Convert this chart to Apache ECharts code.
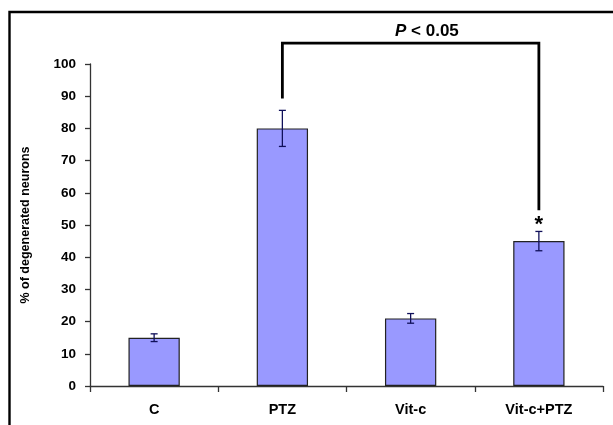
<!DOCTYPE html>
<html>
<head>
<meta charset="utf-8">
<script src="https://cdn.jsdelivr.net/npm/echarts@6/dist/echarts.min.js"></script>
<style>
html,body{margin:0;padding:0;background:#fff;}
#chart{width:613px;height:425px;}
</style>
</head>
<body>
<div id="chart"></div>
<script>
const categories = ['C', 'PTZ', 'Vit-c', 'Vit-c+PTZ'];
const means = [15, 80, 21, 45];
const errors = [1.2, 5.6, 1.5, 3.0];
const yTicks = [0, 10, 20, 30, 40, 50, 60, 70, 80, 90, 100];
const comparePair = [1, 3];
const bracketLevels = [89.3, 106.5, 54.6];
const starLevel = 51.3;
const yAxisTitle = '% of degenerated neurons';
const sigText = 'P < 0.05';

const FONT = '"Liberation Sans", Arial, sans-serif';
const chart = echarts.init(document.getElementById('chart'), null, {renderer: 'canvas'});

const option = {
  backgroundColor: '#ffffff',
  animation: false,
  title: {
    text: '{i|P} < 0.05',
    left: 390,
    top: 18,
    textStyle: {
      fontFamily: FONT, fontSize: 17, fontWeight: 'bold', color: '#000',
      rich: { i: { fontFamily: FONT, fontSize: 17, fontWeight: 'bold', fontStyle: 'italic', color: '#000' } }
    }
  },
  graphic: [{
    type: 'polyline',
    shape: { points: [[9.5, 425], [9.5, 12], [613, 12]] },
    style: { stroke: '#000', lineWidth: 2.4, fill: null },
    silent: true
  }],
  grid: { left: 90, right: 10, top: 64, bottom: 39 },
  xAxis: {
    type: 'category',
    data: categories,
    axisLine: { lineStyle: { color: '#333', width: 1.3 } },
    axisTick: { show: true, alignWithLabel: false, length: 6, lineStyle: { color: '#333', width: 1.3 } },
    axisLabel: { margin: 16, fontFamily: FONT, fontSize: 14.5, fontWeight: 'bold', color: '#000' },
    splitLine: { show: false }
  },
  yAxis: {
    type: 'value',
    min: 0, max: 100, interval: 10,
    name: yAxisTitle,
    nameLocation: 'middle',
    nameGap: 58,
    nameRotate: 90,
    nameTextStyle: { fontFamily: FONT, fontSize: 12.5, fontWeight: 'bold', color: '#000' },
    axisLine: { show: true, lineStyle: { color: '#333', width: 1.3 } },
    axisTick: { show: true, length: 5, lineStyle: { color: '#333', width: 1.3 } },
    axisLabel: {
      margin: 14, fontFamily: FONT, fontSize: 13.5, fontWeight: 'bold', color: '#000',
      formatter: function (v) { return yTicks.indexOf(v) >= 0 ? String(v) : ''; }
    },
    splitLine: { show: false }
  },
  series: [
    {
      name: 'mean',
      type: 'bar',
      data: means,
      barWidth: '40%',
      itemStyle: { color: '#9999ff', borderColor: '#222', borderWidth: 1.2 }
    },
    {
      name: 'error',
      type: 'custom',
      data: means.map(function (m, i) { return [i, m - errors[i], m + errors[i]]; }),
      encode: { x: 0, y: [1, 2] },
      z: 5,
      renderItem: function (params, api) {
        const x = api.value(0);
        const lo = api.coord([x, api.value(1)]);
        const hi = api.coord([x, api.value(2)]);
        const hw = 3.5;
        const st = { stroke: '#10105a', lineWidth: 1.3 };
        return {
          type: 'group',
          children: [
            { type: 'line', shape: { x1: lo[0], y1: lo[1], x2: hi[0], y2: hi[1] }, style: st },
            { type: 'line', shape: { x1: lo[0] - hw, y1: lo[1], x2: lo[0] + hw, y2: lo[1] }, style: st },
            { type: 'line', shape: { x1: hi[0] - hw, y1: hi[1], x2: hi[0] + hw, y2: hi[1] }, style: st }
          ]
        };
      }
    },
    {
      name: 'significance',
      type: 'custom',
      clip: false,
      data: [[comparePair[0], comparePair[1], bracketLevels[0], bracketLevels[1], bracketLevels[2], starLevel]],
      z: 6,
      renderItem: function (params, api) {
        const a = api.value(0), b = api.value(1);
        const p1 = api.coord([a, api.value(2)]);
        const p2 = api.coord([a, api.value(3)]);
        const p3 = api.coord([b, api.value(3)]);
        const p4 = api.coord([b, api.value(4)]);
        const ps = api.coord([b, api.value(5)]);
        return {
          type: 'group',
          children: [
            { type: 'polyline', shape: { points: [p1, p2, p3, p4] }, style: { stroke: '#000', lineWidth: 2.8, fill: null } },
            { type: 'text', x: ps[0], y: ps[1] + 4, style: { text: '*', fontFamily: FONT, fontSize: 22, fontWeight: 'bold', fill: '#000', align: 'center', verticalAlign: 'middle' } }
          ]
        };
      }
    }
  ]
};
chart.setOption(option);
</script>
</body>
</html>
